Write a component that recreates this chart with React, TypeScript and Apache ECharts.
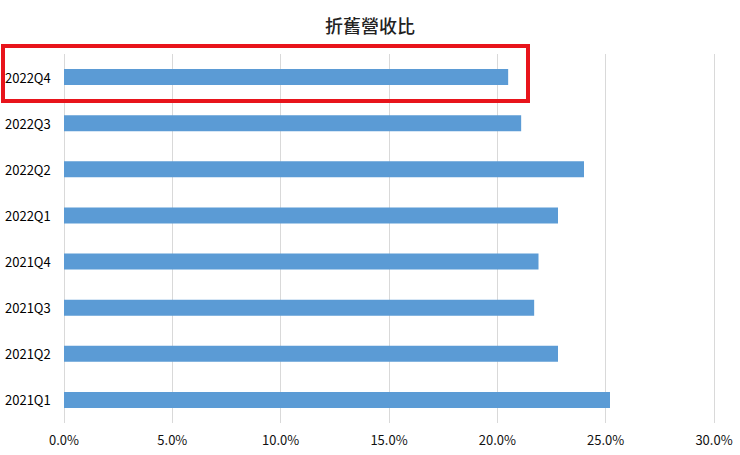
import * as echarts from 'echarts';
import React, { useEffect, useRef } from 'react';

const quarters = ['2021Q1', '2021Q2', '2021Q3', '2021Q4', '2022Q1', '2022Q2', '2022Q3', '2022Q4'];
const ratios = [25.2, 22.8, 21.7, 21.9, 22.8, 24.0, 21.1, 20.5];

const FONT = '"Noto Sans CJK TC", "Noto Sans", sans-serif';

const App: React.FC = () => {
  const chartRef = useRef<HTMLDivElement>(null);

  useEffect(() => {
    const myChart = echarts.init(chartRef.current!, null, { renderer: 'svg' });

    const option = {
      animation: false,
      backgroundColor: '#ffffff',
      title: {
        text: '折舊營收比',
        left: 'center',
        top: 11,
        textStyle: { fontFamily: FONT, fontSize: 18, fontWeight: 500, color: '#222' },
      },
      grid: { left: 64, right: 26, top: 54, bottom: 32 },
      xAxis: {
        type: 'value',
        min: 0,
        max: 30,
        interval: 5,
        axisLine: { show: false },
        axisTick: { show: false },
        splitLine: { lineStyle: { color: '#d9d9d9', width: 1 } },
        axisLabel: {
          formatter: (v: number) => v.toFixed(1) + '%',
          fontFamily: FONT,
          fontSize: 13,
          color: '#111',
          margin: 10,
        },
      },
      yAxis: {
        type: 'category',
        data: quarters,
        axisLine: { show: false },
        axisTick: { show: false },
        axisLabel: {
          align: 'left',
          margin: 59,
          fontFamily: FONT,
          fontSize: 13,
          color: '#000',
        },
      },
      series: [
        {
          type: 'bar',
          data: ratios,
          barWidth: 16,
          itemStyle: { color: '#5b9bd5' },
        },
      ],
      graphic: [
        {
          type: 'rect',
          shape: { x: 3, y: 46, width: 525, height: 55 },
          style: { fill: 'none', stroke: '#e8141b', lineWidth: 4 },
          z: 100,
        },
      ],
    };

    myChart.setOption(option);

    return () => {
      myChart.dispose();
    };
  }, []);

  return (
    <div
      ref={chartRef}
      style={{ position: 'fixed', left: 0, top: 0, width: '740px', height: '455px' }}
    />
  );
};

export default App;
